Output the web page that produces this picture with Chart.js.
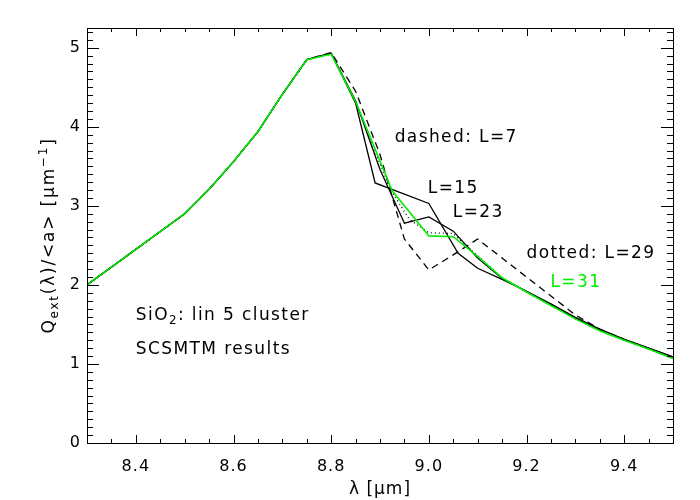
<!DOCTYPE html>
<html>
<head>
<meta charset="utf-8">
<script src="https://cdn.jsdelivr.net/npm/chart.js@4.4.0/dist/chart.umd.min.js"></script>
<style>
  html, body { margin: 0; padding: 0; background: #fff; }
</style>
</head>
<body>
<canvas id="chart" width="700" height="500"></canvas>
<script>
// wavelength [um] and Q_ext/<a> [um^-1]
const l31X = [8.3, 8.5, 8.55, 8.6, 8.65, 8.7, 8.75, 8.8, 8.85, 8.925, 9.0, 9.05, 9.1, 9.15, 9.2, 9.25, 9.3, 9.35, 9.4, 9.45, 9.5];
const l31Y = [2.0, 2.90, 3.21, 3.56, 3.94, 4.41, 4.85, 4.92, 4.32, 3.19, 2.62, 2.61, 2.36, 2.09, 1.91, 1.74, 1.57, 1.42, 1.30, 1.19, 1.07];

const l29X = [8.3, 8.5, 8.55, 8.6, 8.65, 8.7, 8.75, 8.8, 8.85, 8.92, 8.96, 9.0, 9.05, 9.1, 9.15, 9.2, 9.25, 9.3, 9.35, 9.4, 9.45, 9.5];
const l29Y = [2.0, 2.90, 3.21, 3.56, 3.94, 4.41, 4.85, 4.92, 4.32, 3.22, 2.83, 2.66, 2.65, 2.37, 2.09, 1.91, 1.74, 1.57, 1.42, 1.30, 1.19, 1.07];

const l23X = [8.3, 8.5, 8.55, 8.6, 8.65, 8.7, 8.75, 8.8, 8.85, 8.9, 8.95, 9.0, 9.05, 9.1, 9.15, 9.2, 9.25, 9.3, 9.35, 9.4, 9.45, 9.5];
const l23Y = [2.0, 2.90, 3.21, 3.56, 3.94, 4.41, 4.85, 4.93, 4.33, 3.46, 2.78, 2.86, 2.68, 2.34, 2.08, 1.92, 1.75, 1.58, 1.43, 1.31, 1.20, 1.09];

const l15X = [8.3, 8.5, 8.55, 8.6, 8.65, 8.7, 8.75, 8.8, 8.85, 8.89, 9.0, 9.06, 9.1, 9.15, 9.2, 9.25, 9.3, 9.35, 9.4, 9.45, 9.5];
const l15Y = [2.0, 2.90, 3.21, 3.56, 3.94, 4.41, 4.85, 4.93, 4.30, 3.29, 3.03, 2.40, 2.21, 2.07, 1.92, 1.76, 1.59, 1.44, 1.31, 1.20, 1.09];

const l7X = [8.3, 8.5, 8.55, 8.6, 8.65, 8.7, 8.75, 8.8, 8.85, 8.9, 8.95, 9.0, 9.05, 9.1, 9.15, 9.2, 9.25, 9.3, 9.35, 9.4, 9.45, 9.5];
const l7Y = [2.0, 2.90, 3.21, 3.56, 3.94, 4.41, 4.85, 4.94, 4.45, 3.65, 2.58, 2.19, 2.38, 2.58, 2.34, 2.10, 1.86, 1.62, 1.44, 1.31, 1.19, 1.08];

const xTickValues = [8.4, 8.6, 8.8, 9.0, 9.2, 9.4];
const yTickValues = [0, 1, 2, 3, 4, 5];

const GREEN = '#00ee00';
const FONT = '"DejaVu Sans", sans-serif';

// text labels placed in data coordinates (left edge, cap centre)
const notes = [
    { x: 8.93, y: 3.88, color: '#000', parts: [{ t: 'dashed: L=7' }] },
    { x: 8.998, y: 3.24, color: '#000', parts: [{ t: 'L=15' }] },
    { x: 9.049, y: 2.94, color: '#000', parts: [{ t: 'L=23' }] },
    { x: 9.20, y: 2.41, color: '#000', parts: [{ t: 'dotted: L=29' }] },
    { x: 9.249, y: 2.05, color: GREEN, parts: [{ t: 'L=31' }] },
    { x: 8.40, y: 1.636, color: '#000', parts: [{ t: 'SiO' }, { t: '2', sub: true }, { t: ': lin 5 cluster' }] },
    { x: 8.40, y: 1.205, color: '#000', parts: [{ t: 'SCSMTM results' }] }
];

function pairs(xs, ys) {
    return xs.map((x, i) => ({ x: x, y: ys[i] }));
}

function richWidth(ctx, parts, size) {
    let w = 0;
    parts.forEach((p) => {
        ctx.font = ((p.sub || p.sup) ? size * 0.7 : size) + 'px ' + FONT;
        w += ctx.measureText(p.t).width;
    });
    return w;
}

function drawRich(ctx, parts, x, y, size) {
    let cx = x;
    parts.forEach((p) => {
        const small = p.sub || p.sup;
        ctx.font = (small ? size * 0.7 : size) + 'px ' + FONT;
        let dy = 0;
        if (p.sub) dy = size * 0.25;
        if (p.sup) dy = -size * 0.4;
        ctx.fillText(p.t, cx, y + dy);
        cx += ctx.measureText(p.t).width;
    });
}

const framePlugin = {
    id: 'frame',
    beforeDraw: function (chart) {
        // the original's vector font is spaced a little wider
        chart.ctx.letterSpacing = '1px';
    },
    afterDraw: function (chart) {
        const ctx = chart.ctx;
        const a = chart.chartArea;
        const xs = chart.scales.x;
        const ys = chart.scales.y;
        ctx.save();
        ctx.strokeStyle = '#000';
        ctx.lineWidth = 1;
        ctx.strokeRect(Math.round(a.left) + 0.5, Math.round(a.top) + 0.5,
            Math.round(a.right - a.left), Math.round(a.bottom - a.top));

        // ticks on all four sides, pointing inward
        ctx.beginPath();
        for (let i = 1; i < 24; i++) {
            const v = 8.3 + i * 0.05;
            const major = Math.round(v * 100) % 20 === 0;
            const len = major ? 8 : 4;
            const px = Math.round(xs.getPixelForValue(v)) + 0.5;
            ctx.moveTo(px, a.bottom);
            ctx.lineTo(px, a.bottom - len);
            ctx.moveTo(px, a.top);
            ctx.lineTo(px, a.top + len);
        }
        for (let i = 1; i <= 52; i++) {
            const v = i * 0.1;
            const major = i % 10 === 0;
            const len = major ? 12 : 6;
            const py = Math.round(ys.getPixelForValue(v)) + 0.5;
            ctx.moveTo(a.left, py);
            ctx.lineTo(a.left + len, py);
            ctx.moveTo(a.right, py);
            ctx.lineTo(a.right - len, py);
        }
        ctx.stroke();

        // annotations
        ctx.textBaseline = 'alphabetic';
        ctx.textAlign = 'left';
        ctx.letterSpacing = '1.4px';
        notes.forEach((n) => {
            ctx.fillStyle = n.color;
            drawRich(ctx, n.parts, xs.getPixelForValue(n.x), ys.getPixelForValue(n.y) + 6, 17);
        });

        // y-axis title with sub- and superscript
        const title = [{ t: 'Q' }, { t: 'ext', sub: true }, { t: '(λ)/<a> [µm' }, { t: '−1', sup: true }, { t: ']' }];
        ctx.fillStyle = '#000';
        ctx.letterSpacing = '1.8px';
        ctx.translate(48, (a.top + a.bottom) / 2);
        ctx.rotate(-Math.PI / 2);
        const w = richWidth(ctx, title, 17);
        drawRich(ctx, title, -w / 2, 6, 17);
        ctx.restore();
    }
};

new Chart(document.getElementById('chart').getContext('2d'), {
    type: 'line',
    data: {
        datasets: [{
            label: 'L=31',
            data: pairs(l31X, l31Y),
            borderColor: GREEN,
            borderWidth: 1.6
        }, {
            label: 'L=29',
            data: pairs(l29X, l29Y),
            borderColor: '#000',
            borderWidth: 1.3,
            borderDash: [1, 3]
        }, {
            label: 'L=23',
            data: pairs(l23X, l23Y),
            borderColor: '#000',
            borderWidth: 1.3
        }, {
            label: 'L=15',
            data: pairs(l15X, l15Y),
            borderColor: '#000',
            borderWidth: 1.3
        }, {
            label: 'L=7',
            data: pairs(l7X, l7Y),
            borderColor: '#000',
            borderWidth: 1.3,
            borderDash: [7, 5]
        }]
    },
    options: {
        responsive: false,
        animation: false,
        layout: { padding: { left: 0, right: 27, top: 28, bottom: 0 } },
        elements: {
            point: { radius: 0 },
            line: { tension: 0, fill: false }
        },
        plugins: {
            legend: { display: false },
            tooltip: { enabled: false }
        },
        scales: {
            x: {
                type: 'linear',
                min: 8.3,
                max: 9.5,
                grid: { display: false, drawTicks: false },
                border: { display: false },
                ticks: {
                    color: '#000',
                    font: { family: FONT, size: 16 },
                    padding: 14,
                    maxRotation: 0,
                    callback: (v) => v.toFixed(1)
                },
                afterBuildTicks: (s) => { s.ticks = xTickValues.map((v) => ({ value: v })); },
                afterFit: (s) => { s.height = 57; },
                title: {
                    display: true,
                    text: 'λ [µm]',
                    color: '#000',
                    font: { family: FONT, size: 17 },
                    padding: { top: 0, bottom: 0 }
                }
            },
            y: {
                type: 'linear',
                min: 0,
                max: 5.25,
                grid: { display: false, drawTicks: false },
                border: { display: false },
                ticks: {
                    color: '#000',
                    font: { family: FONT, size: 16 },
                    padding: 6,
                    callback: (v) => String(v)
                },
                afterBuildTicks: (s) => { s.ticks = yTickValues.map((v) => ({ value: v })); },
                afterFit: (s) => { s.width = 87; }
            }
        }
    },
    plugins: [framePlugin]
});
</script>
</body>
</html>
